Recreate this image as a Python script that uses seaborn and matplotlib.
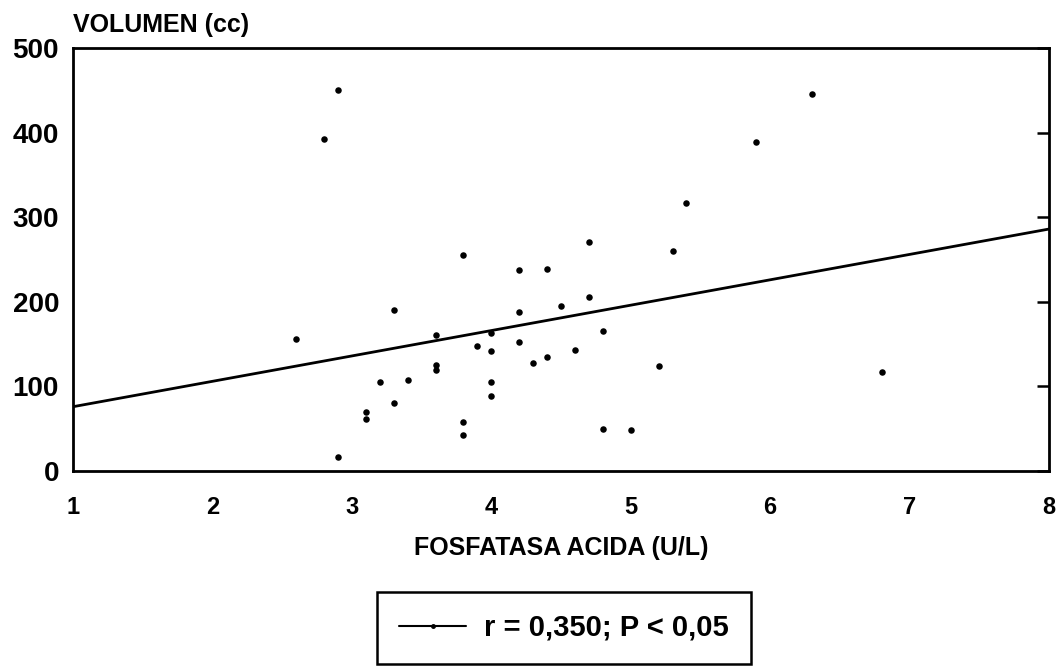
import matplotlib
matplotlib.use("Agg")
import matplotlib.pyplot as plt
from matplotlib.lines import Line2D
import seaborn as sns
import pandas as pd

# Data
fosfatasa = [2.9, 2.8, 3.8, 4.2, 4.2, 3.3, 2.6, 3.6, 4.0, 3.9, 4.0, 4.2, 4.3, 3.6, 3.6,
             3.2, 3.4, 4.0, 4.0, 3.3, 3.1, 3.1, 3.8, 3.8, 2.9, 5.4, 4.7, 5.3, 4.4, 4.5,
             4.7, 4.8, 4.6, 4.4, 5.2, 4.8, 5.0, 6.3, 5.9, 6.8]
volumen = [450, 392, 255, 237, 188, 190, 156, 161, 163, 148, 142, 153, 128, 125, 119,
           105, 107, 105, 89, 80, 70, 62, 58, 43, 16, 317, 271, 260, 239, 195,
           206, 165, 143, 135, 124, 50, 48, 446, 389, 117]
line_x = [1, 8]
line_y = [76, 286]
x_ticks = [1, 2, 3, 4, 5, 6, 7, 8]
y_ticks = [0, 100, 200, 300, 400, 500]
legend_label = "r = 0,350; P < 0,05"

sns.set_style("white")
plt.rcParams["font.family"] = ["Liberation Sans", "DejaVu Sans"]
plt.rcParams["font.weight"] = "bold"
plt.rcParams["text.color"] = "black"
plt.rcParams["axes.labelcolor"] = "black"
plt.rcParams["xtick.color"] = "black"
plt.rcParams["ytick.color"] = "black"

fig = plt.figure(figsize=(10.57, 6.70), dpi=100)
ax = fig.add_axes([73 / 1057, 1 - 471 / 670, 976 / 1057, 423 / 670])

df = pd.DataFrame({"x": fosfatasa, "y": volumen})
sns.scatterplot(data=df, x="x", y="y", ax=ax, color="black", s=22, linewidth=0, zorder=3)
sns.lineplot(x=line_x, y=line_y, ax=ax, color="black", linewidth=2.0, estimator=None, zorder=2)

ax.set_xlim(1, 8)
ax.set_ylim(0, 500)
ax.set_xticks(x_ticks)
ax.set_yticks(y_ticks)
ax.set_xticklabels([str(t) for t in x_ticks], fontsize=17, fontweight="bold")
ax.set_yticklabels([str(t) for t in y_ticks], fontsize=20, fontweight="bold")
ax.tick_params(axis="x", direction="in", length=9, width=1.8, pad=18, colors="black")
ax.tick_params(axis="y", direction="in", length=9, width=1.8, pad=10, colors="black",
               right=True)
for s in ax.spines.values():
    s.set_visible(True)
    s.set_color("black")
    s.set_linewidth(2.0)

ax.set_xlabel("FOSFATASA ACIDA (U/L)", fontsize=18, fontweight="bold", labelpad=12,
              color="black")
ax.set_ylabel("")
fig.text(73 / 1057, 1 - 25 / 670, "VOLUMEN (cc)", fontsize=18, fontweight="bold",
         ha="left", va="center", color="black")

handle = Line2D([0], [0], color="black", linewidth=1.5, marker="o", markersize=2.5)
leg = fig.legend([handle], [legend_label], loc="center",
                 bbox_to_anchor=(564 / 1057, 1 - 628 / 670), frameon=True,
                 fancybox=False, edgecolor="black", handlelength=2.3,
                 handletextpad=0.6, borderpad=0.75, numpoints=1,
                 prop={"weight": "bold", "size": 21})
leg.get_frame().set_linewidth(1.8)
leg.get_frame().set_alpha(1)
for t in leg.get_texts():
    t.set_color("black")

fig.savefig("out.png", dpi=100, facecolor="white")
